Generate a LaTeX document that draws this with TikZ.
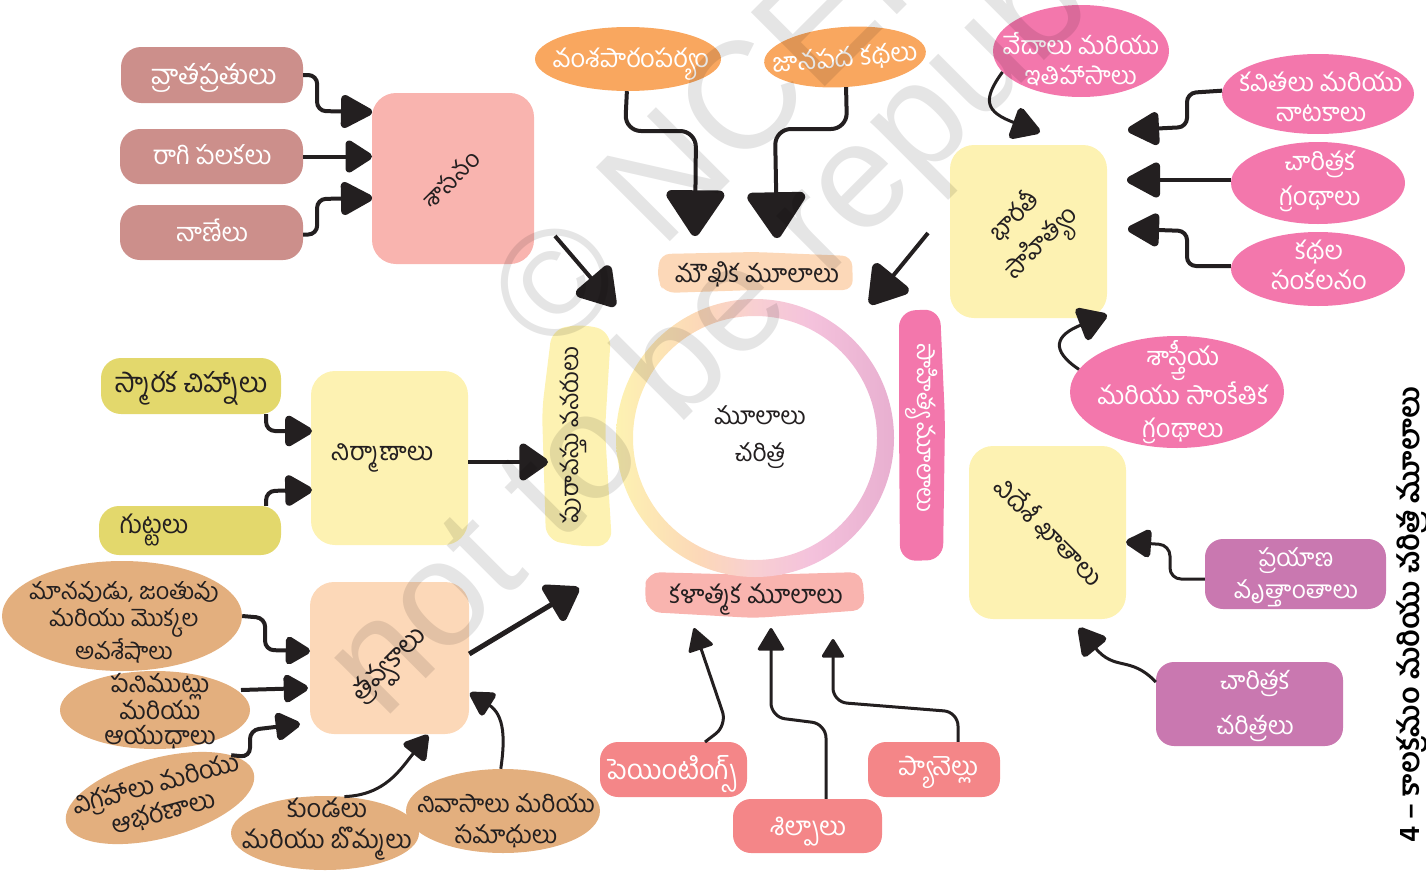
\documentclass[tikz,border=0pt]{standalone}
\usepackage{fontspec}
\usetikzlibrary{arrows.meta,shapes.geometric,calc}
\newfontfamily\tel[Script=Telugu]{Hind Guntur}
\newfontfamily\wmfont{Liberation Sans}
\newcommand{\fsz}[2]{\tel\fontsize{#1}{#2}\selectfont}
\definecolor{ink}{HTML}{231F20}
\definecolor{cbrown}{HTML}{CC8F8B}
\definecolor{crose}{HTML}{F9B4AF}
\definecolor{corange}{HTML}{F9A75F}
\definecolor{cpeach}{HTML}{FCD8B8}
\definecolor{cyellow}{HTML}{FDF2B2}
\definecolor{cpink}{HTML}{F377AC}
\definecolor{cpurple}{HTML}{C978B0}
\definecolor{csalmon}{HTML}{F48688}
\definecolor{ckhaki}{HTML}{E3D86C}
\definecolor{ctan}{HTML}{E3AF7E}
\definecolor{rmid}{HTML}{F8CFD2}
\definecolor{rmidb}{HTML}{F4C2DC}
\definecolor{rend}{HTML}{E8AFD0}
\pgfdeclarehorizontalshading{ringshade}{100bp}{
  color(0bp)=(cyellow);
  color(25bp)=(cyellow);
  color(40bp)=(cpeach);
  color(50bp)=(rmid);
  color(60bp)=(rmidb);
  color(75bp)=(rend);
  color(100bp)=(rend)}
\tikzset{
  box/.style={rectangle,rounded corners=#1,inner sep=0pt,draw=none},
  oval/.style={ellipse,inner sep=0pt,draw=none},
  lab/.style={align=center,inner sep=0pt,text=ink,font=\fsz{25.5}{30}},
  wlab/.style={lab,text=white},
  link/.style={draw=ink,line width=4pt,rounded corners=9pt},
  thin link/.style={draw=ink,line width=3pt,rounded corners=14pt},
  hd/.style n args={3}{-{Triangle[length=#1pt,width=#2pt,round,line width=#3pt,fill=ink,color=ink]}},
  mark wm/.style={font=\wmfont\fontsize{#1}{#1}\selectfont,text=black,text opacity=0.1,anchor=base west,rotate=45,inner sep=0pt}
}
\newcommand{\bx}[7]{\node[box=#6pt,fill=#7,minimum width=#3pt-#1pt,minimum height=#4pt-#2pt] (#5) at ({(#1+#3)/2},{(#2+#4)/2}) {};}
\newcommand{\ov}[7]{\node[oval,fill=#7,rotate=#6,minimum width=2*#4pt,minimum height=2*#5pt] (#1) at (#2,#3) {};}
\begin{document}
\begin{tikzpicture}[x=1pt,y=-1pt]
\useasboundingbox (0,0) rectangle (1426,870);
% ---- boxes
\bx{121}{47}{303}{103}{r1}{20}{cbrown}
\bx{120}{129}{303}{184}{r2}{20}{cbrown}
\bx{120}{205}{303}{260}{r3}{20}{cbrown}
\bx{372}{93}{534}{264}{sas}{24}{crose}
\bx{311}{371}{468}{545}{nir}{24}{cyellow}
\bx{310}{582}{469}{734}{trv}{24}{cpeach}
\bx{950}{145}{1107}{318}{bha}{24}{cyellow}
\bx{969}{446}{1126}{619}{vid}{24}{cyellow}
\bx{101}{358}{281}{414}{sma}{20}{ckhaki}
\bx{99}{506}{281}{555}{gut}{20}{ckhaki}
\bx{1205}{539}{1386}{609}{pra}{18}{cpurple}
\bx{1156}{662}{1343}{746}{chc}{18}{cpurple}
\bx{600}{742}{747}{797}{pai}{18}{csalmon}
\bx{733}{799}{882}{853}{sil}{18}{csalmon}
\bx{868}{742}{1000}{797}{pan}{18}{csalmon}
% ---- ovals
\ov{van}{628}{59}{93}{32}{0}{corange}
\ov{jan}{845}{57}{81}{30}{4}{corange}
\ov{ved}{1081}{51}{88}{46}{0}{cpink}
\ov{kav}{1318}{94}{96}{40}{0}{cpink}
\ov{cgr}{1318}{183}{87}{41}{0}{cpink}
\ov{kat}{1318}{269}{87}{37}{0}{cpink}
\ov{sas2}{1177}{392}{107}{56}{0}{cpink}
\ov{o1}{122}{616}{120}{55}{0}{ctan}
\ov{o2}{155}{710}{95}{39}{0}{ctan}
\ov{o3}{160}{798}{97}{40}{15}{ctan}
\ov{o4}{325}{833}{94}{37}{0}{ctan}
\ov{o5}{503}{811}{97}{42}{0}{ctan}
% ---- bands
\fill[cpeach,rounded corners=10pt] (660,254) -- (755,252) -- (852,256) -- (853,290) -- (755,290) -- (665,293) -- (657,280) -- cycle;
\fill[crose,rounded corners=12pt] (648,572) -- (755,575) -- (862,572) -- (865,610) -- (755,618) -- (648,612) -- (644,590) -- cycle;
\fill[cyellow,rounded corners=14pt] (552,329) -- (585,324) -- (611,332) -- (605,430) -- (612,545) -- (585,547) -- (546,540) -- (542,410) -- cycle;
\fill[cpink,rounded corners=16pt] (899,311) -- (940,309) -- (945,420) -- (943,560) -- (900,561) -- (899,420) -- cycle;
% ---- ring
\path[even odd rule,shading=ringshade] (755,438) circle[radius=139] (755,438) circle[radius=122];
% ---- connectors
\coordinate (e1) at (372,112);
\coordinate (e2) at (372,156.5);
\coordinate (e3) at (372,198);
\draw[link,hd={36}{36}{8}] (r1.east) -- ++(14,0) -- (317,111) -- (e1);
\draw[link,hd={30}{36}{8}] (r2.east) -- (e2);
\draw[link,hd={36}{36}{8}] ([yshift=-2pt]r3.east) -- ++(14,0) -- (317,199) -- (e3);
\coordinate (e4) at (695,236);
\coordinate (e5) at (777,238);
\draw[link,rounded corners=16pt,hd={50}{64}{10}] (van.268) -- (625,131) -- (696,131) -- (e4);
\draw[link,rounded corners=16pt,hd={50}{64}{10}] (jan.268) -- (847,129) -- (775,129) -- (e5);
\coordinate (s6) at (555,236);
\coordinate (e6) at (615,306);
\draw[link,hd={42}{50}{10}] (s6) -- (e6);
\coordinate (s7) at (928,233);
\coordinate (e7) at (870,304);
\draw[link,hd={42}{50}{10}] (s7) -- (e7);
\coordinate (e8) at (548,462);
\draw[link,hd={32}{42}{8}] (nir.east |- e8) -- (e8);
\coordinate (e9) at (579,588);
\draw[link,line width=5pt,hd={36}{46}{8}] (trv.east |- 0,654) -- (e9);
\coordinate (e10) at (312,431);
\coordinate (e11) at (312,490);
\draw[link,hd={31}{34}{8}] ([xshift=-15pt]sma.south east) -- (266,431) -- (e10);
\draw[link,hd={31}{34}{8}] ([xshift=-15pt]gut.north east) -- (266,491) -- (e11);
\coordinate (e12) at (310,651);
\coordinate (e13) at (308,688);
\coordinate (e14) at (300,724);
\draw[link,hd={28}{31}{7}] (o1.east) -- ++(23,2) -- (265,650) -- (e12);
\draw[link,hd={28}{31}{7}] (241,690) -- (e13);
\draw[link,hd={28}{31}{7}] (o3.16) -- (250,757) -- (250,730) -- (e14);
\coordinate (e15) at (428,735);
\coordinate (e16) at (470,693);
\draw[draw=ink,line width=3pt,hd={27}{31}{6}] (o4.62) .. controls (385,795) and (400,770) .. (e15);
\draw[draw=ink,line width=3pt,hd={27}{29}{6}] (o5.93) .. controls (505,740) and (505,715) .. (e16);
\coordinate (e17) at (1040,132);
\draw[draw=ink,line width=3pt,hd={32}{36}{7}] (ved.195) .. controls (982,100) and (985,112) .. (e17);
\coordinate (e18) at (1128,130);
\coordinate (e19) at (1127,180);
\coordinate (e20) at (1128,229);
\draw[link,hd={36}{36}{8}] (kav.178) -- (1187,93) -- (1187,127) -- (e18);
\draw[link,hd={38}{38}{8}] (cgr.west |- 0,180) -- (e19);
\draw[link,hd={36}{36}{8}] (kat.west |- 0,266) -- (1187,266) -- (1187,231) -- (e20);
\coordinate (e21) at (1107,315);
\draw[draw=ink,line width=3pt,hd={32}{38}{7}] (sas2.167) .. controls (1050,350) and (1055,335) .. (e21);
\coordinate (e22) at (1126,542);
\draw[thin link,rounded corners=11pt,hd={29}{31}{7}] (pra.west |- 0,579) -- (1170,579) -- (1170,545) -- (e22);
\coordinate (e23) at (1079,628);
\draw[draw=ink,line width=3pt,hd={31}{33}{7}] (chc.west |- 0,682) .. controls (1130,655) and (1115,672) .. (e23);
\coordinate (e24) at (694,628);
\coordinate (e25) at (771,628);
\coordinate (e26) at (833,639);
\draw[thin link,hd={24}{27}{3}] (705,742) -- (727,725) -- (e24);
\draw[thin link,hd={24}{28}{3}] (sil.north -| 826,0) -- (826,724) -- (771,717) -- (e25);
\draw[thin link,hd={20}{24}{3}] (pan.north -| 958,0) -- (958,712) -- (833,702) -- (e26);
% ---- labels
\node[wlab,font=\fsz{27.5}{30}] (t1) at (214,78) {వ్రాతప్రతులు};
\node[wlab,font=\fsz{26}{30}] (t2) at (212,155) {రాగి పలకలు};
\node[wlab] (t3) at (212,230) {నాణేలు};
\node[lab,font=\fsz{24}{30},rotate=45] (t4) at (451,179) {శాసనం};
\node[wlab] (t5) at (631,64) {వంశపారంపర్యం};
\node[wlab,font=\fsz{26}{30},rotate=5] (t6) at (845,59) {జానపద కథలు};
\node[lab,font=\fsz{25}{30}] (t7) at (757,274) {మౌఖిక మూలాలు};
\node[lab,font=\fsz{24.5}{37}] (t8) at (760,437) {మూలాలు\\చరిత్ర};
\node[lab,font=\fsz{24}{30},rotate=90] (t9) at (573,435) {పురావస్తు వనరులు};
\node[wlab,font=\fsz{24}{30},rotate=-90] (t10) at (922,428) {సాహిత్య మూలాలు};
\node[lab] (t11) at (756,600) {కళాత్మక మూలాలు};
\node[lab,rotate=45,font=\fsz{25}{37}] (t12) at (1030,232) {భారతీ\\సాహిత్యం};
\node[lab,rotate=-45] (t13) at (1049,532) {విదేశీ ఖాతాలు};
\node[wlab,font=\fsz{25}{30}] (t14) at (1081,59) {వేదాలు మరియు\\ఇతిహాసాలు};
\node[wlab] (t15) at (1321,97) {కవితలు మరియు\\నాటకాలు};
\node[wlab,font=\fsz{25.5}{35}] (t16) at (1320,181) {చారిత్రక\\గ్రంథాలు};
\node[wlab] (t17) at (1319,265) {కథల\\సంకలనం};
\node[wlab,font=\fsz{25.5}{33}] (t18) at (1183,392) {శాస్త్రీయ\\మరియు సాంకేతిక\\గ్రంథాలు};
\node[wlab,font=\fsz{24.5}{32}] (t19) at (1296,577) {ప్రయాణ\\వృత్తాంతాలు};
\node[wlab,font=\fsz{25}{45}] (t20) at (1255,706) {చారిత్రక\\చరిత్రలు};
\node[wlab,font=\fsz{27.5}{30}] (t21) at (672,774) {పెయింటింగ్స్};
\node[wlab,font=\fsz{26}{30}] (t22) at (808,832) {శిల్పాలు};
\node[wlab,font=\fsz{26}{30}] (t23) at (938,772) {ప్యానెల్లు};
\node[lab,font=\fsz{27.5}{30}] (t24) at (191,388) {స్మారక చిహ్నాలు};
\node[lab] (t25) at (154,530) {గుట్టలు};
\node[lab] (t26) at (382,458) {నిర్మాణాలు};
\node[lab,font=\fsz{27}{30},rotate=45] (t27) at (391,666) {త్రవ్వకాలు};
\node[lab,font=\fsz{23.5}{27}] (t28) at (124,622) {మానవుడు, జంతువు\\మరియు మొక్కల\\అవశేషాలు};
\node[lab,font=\fsz{25}{25}] (t29) at (160,711) {పనిముట్లు\\మరియు\\ఆయుధాలు};
\node[lab,rotate=15,font=\fsz{25.5}{29}] (t30) at (160,799) {విగ్రహాలు మరియు\\ఆభరణాలు};
\node[lab,font=\fsz{25.5}{31}] (t31) at (327,829) {కుండలు\\మరియు బొమ్మలు};
\node[lab,font=\fsz{24.5}{31}] (t32) at (506,821) {నివాసాలు మరియు\\సమాధులు};
\node[lab,rotate=90,text=black,font=\fsz{29}{24}\bfseries] (t33) at (1413,615) {4 – కాలక్రమం మరియు చరిత్ర మూలాలు};
% ---- watermark
\node[mark wm=152] (w1) at (552,360) {© NCERT};
\node[mark wm=150] (w2) at (383,722) {not to be republished};
\end{tikzpicture}
\end{document}
